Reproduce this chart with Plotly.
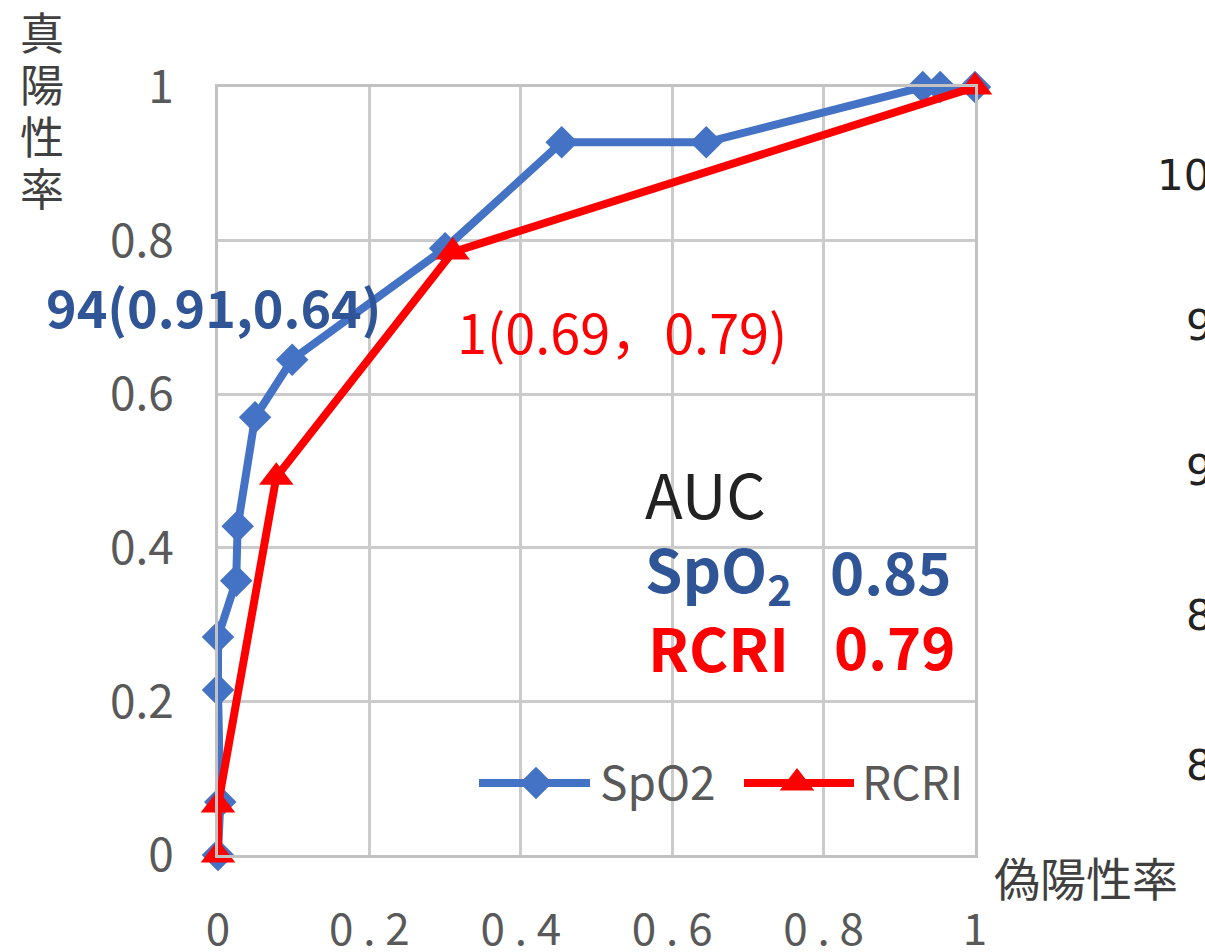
import plotly.graph_objects as go

# ROC curve points (false positive rate, true positive rate)
spo2_fpr = [0.0, 0.003, 0.0, 0.0, 0.024, 0.026, 0.049, 0.098, 0.30, 0.454, 0.645, 0.931, 0.954, 1.0]
spo2_tpr = [0.0, 0.069, 0.215, 0.284, 0.357, 0.428, 0.570, 0.645, 0.79, 0.928, 0.928, 1.0, 1.0, 1.0]

rcri_fpr = [0.0, 0.0, 0.077, 0.31, 1.0]
rcri_tpr = [0.0, 0.065, 0.492, 0.785, 1.0]

tick_vals = [0, 0.2, 0.4, 0.6, 0.8, 1]
y_tick_text = ["0", "0.2", "0.4", "0.6", "0.8", "1"]
x_tick_text = ["0", "0 . 2", "0 . 4", "0 . 6", "0 . 8", "1"]

auc_spo2 = "0.85"
auc_rcri = "0.79"
cut_label_spo2 = "94(0.91,0.64)"
cut_label_rcri = "1(0.69，0.79)"
side_labels = ["100", "95", "90", "85", "80"]

W, H = 1205, 952
L, R, T, B = 218, 975, 87, 855
BLUE = "#4472C4"
BLUE_TXT = "#2F5597"
RED = "#FF0000"
GREY = "#595959"
JP = "Noto Sans CJK JP"


def px(x):
    return (x - L) / (R - L)


def py(y):
    return (B - y) / (B - T)


fig = go.Figure()

fig.add_trace(go.Scatter(
    x=spo2_fpr, y=spo2_tpr, mode="lines+markers", name="SpO2",
    line=dict(color=BLUE, width=8),
    marker=dict(symbol="diamond", size=25, color=BLUE),
    cliponaxis=False, showlegend=False,
))
fig.add_trace(go.Scatter(
    x=rcri_fpr, y=rcri_tpr, mode="lines+markers", name="RCRI",
    line=dict(color=RED, width=8),
    marker=dict(symbol="triangle-up", size=30, color=RED),
    cliponaxis=False, showlegend=False,
))

# legend keys drawn on a pixel-unit overlay axis
legend_keys = [
    (479, 590, 536, BLUE, "diamond", 25),
    (744, 854, 797, RED, "triangle-up", 30),
]
for x0, x1, xm, col, sym, sz in legend_keys:
    fig.add_trace(go.Scatter(
        x=[x0, x1], y=[783, 783], xaxis="x2", yaxis="y2", mode="lines",
        line=dict(color=col, width=8), showlegend=False, hoverinfo="skip",
        cliponaxis=False,
    ))
    fig.add_trace(go.Scatter(
        x=[xm], y=[783], xaxis="x2", yaxis="y2", mode="markers",
        marker=dict(symbol=sym, size=sz, color=col, opacity=1),
        showlegend=False, hoverinfo="skip", cliponaxis=False,
    ))

ann = []


def text(s, x, y, size, color, anchor="left", family=JP):
    ann.append(dict(
        text=s, x=px(x), y=py(y), xref="paper", yref="paper",
        xanchor=anchor, yanchor="middle", showarrow=False,
        font=dict(family=family, size=size, color=color),
    ))


# vertical y-axis title, one character per line
for i, ch in enumerate("真陽性率"):
    text(ch, 42, 31 + i * 52, 44, "#404040", anchor="center")
text("偽陽性率", 992, 876, 46, "#404040")

text("<b>" + cut_label_spo2 + "</b>", 44, 305, 52, BLUE_TXT)
text(cut_label_rcri, 455, 330, 54, RED)

text("AUC", 643, 492, 62, "#222222")
text("<b>SpO<sub>2</sub></b>", 643, 570, 60, BLUE_TXT)
text("<b>" + auc_spo2 + "</b>", 828, 570, 58, BLUE_TXT)
text("<b>RCRI</b>", 646, 645, 60, RED)
text("<b>" + auc_rcri + "</b>", 832, 645, 58, RED)

text("SpO2", 598, 780, 46, GREY)
text("RCRI", 860, 780, 46, GREY)

side_y = [175, 325, 470, 615, 765]
side_x = [1155, 1184, 1184, 1184, 1184]
for s, xx, yy in zip(side_labels, side_x, side_y):
    text(s, xx, yy, 42, "#222222", family="DejaVu Sans")

axis_common = dict(
    range=[0, 1], tickvals=tick_vals, showgrid=True, gridcolor="#cbcbcb", gridwidth=3,
    zeroline=False, showline=True, linecolor="#c2c2c2", linewidth=3, mirror=True,
    ticks="", fixedrange=True, automargin=False,
)

fig.update_layout(
    width=W, height=H,
    margin=dict(l=L, r=W - R, t=T, b=H - B, pad=0),
    paper_bgcolor="white", plot_bgcolor="white",
    xaxis=dict(axis_common, ticktext=x_tick_text, ticklabelstandoff=34,
               tickfont=dict(family=JP, size=44, color=GREY)),
    yaxis=dict(axis_common, ticktext=y_tick_text, ticklabelstandoff=32,
               tickfont=dict(family=JP, size=46, color=GREY)),
    xaxis2=dict(overlaying="x", range=[L, R], visible=False, fixedrange=True),
    yaxis2=dict(overlaying="y", range=[B, T], visible=False, fixedrange=True),
    annotations=ann,
    showlegend=False,
)

fig.write_html("out.html")
